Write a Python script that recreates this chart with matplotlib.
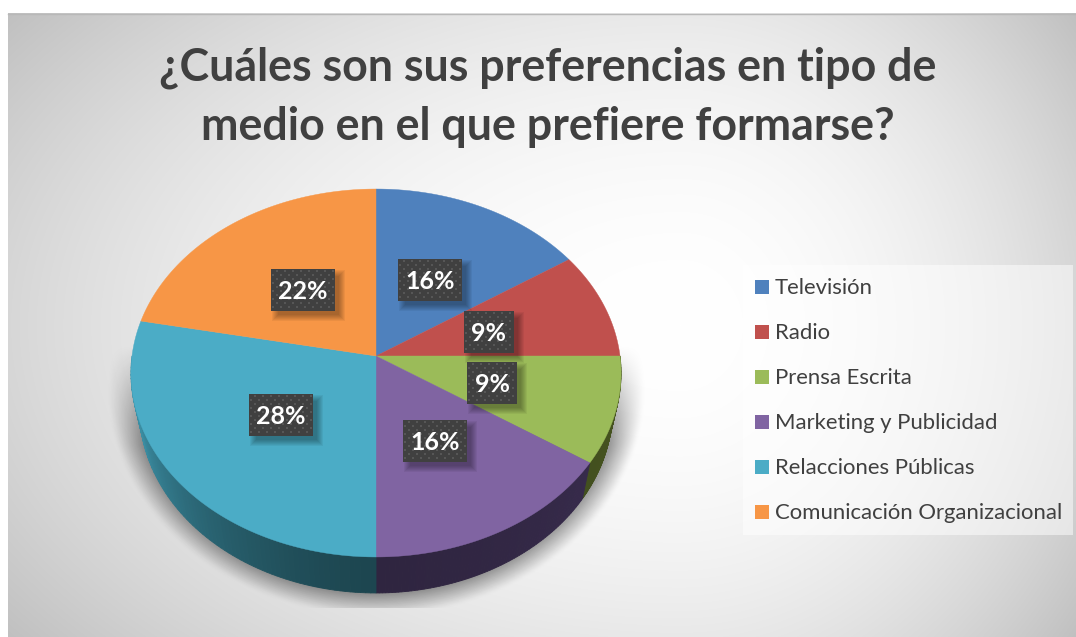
#!/usr/bin/env python3
"""Preferencias de medio: perspective pie with a drawn side wall"""

import matplotlib
matplotlib.use('Agg')
import matplotlib.pyplot as plt
from matplotlib.colors import to_rgb
from matplotlib.patches import Rectangle
import numpy as np

categories = ['Televisión', 'Radio', 'Prensa Escrita', 'Marketing y Publicidad',
              'Relacciones Públicas', 'Comunicación Organizacional']
counts = [5, 3, 3, 5, 9, 7]
colors = ['#4F81BD', '#C0504D', '#9BBB59', '#8064A2', '#4BACC6', '#F79646']
wall_dark = ['#2A4565', '#662B29', '#3E4A1F', '#2F2540', '#1D4650', '#84501F']
wall_light = ['#3A6090', '#8A3A38', '#45521F', '#3A2D50', '#3B8DA2', '#B06A2C']
title_lines = ['¿Cuáles son sus preferencias en tipo de', 'medio en el que prefiere formarse?']
# label box left, top in pixels
label_boxes = [(398, 259), (464, 311), (467, 362), (403, 420), (249, 394), (271, 269)]

W, H = 1076, 637
CX, CY = 376, 356
RX, RY = 244, 182.4
K = 0.0924
DEPTH = 36
TAPER = 0.965

plt.rcParams['font.family'] = ['Lato', 'DejaVu Sans']


def rim(frac):
    """Pie outline at clockwise fraction(s) from the top, with perspective"""
    t = 2 * np.pi * np.asarray(frac)
    u, v = np.sin(t), np.cos(t)
    w = 1 + K * v
    return CX + RX * u / w, CY - RY * v / w


def blur(a, n):
    kernel = np.exp(-np.linspace(-2.5, 2.5, 2 * n + 1) ** 2 / 2)
    kernel /= kernel.sum()
    a = np.apply_along_axis(np.convolve, 0, a, kernel, mode='same')
    return np.apply_along_axis(np.convolve, 1, a, kernel, mode='same')


fig = plt.figure(figsize=(W / 100, H / 100), dpi=100)
ax = fig.add_axes([0, 0, 1, 1])

# background gradient, white centre sitting right of the middle
yy, xx = np.mgrid[0:H, 0:W]
gx, gy = 680, 325
nx = np.where(xx < gx, (gx - xx) / (gx - 8), (xx - gx) / (W - gx))
ny = np.where(yy < gy, (gy - yy) / (gy - 13), (yy - gy) / (H - gy))
frac = (np.hypot(nx, 0.75 * ny) / 1.25) ** 2
shade = (255 - 63 * np.clip(frac, 0, 1)) / 255
bg = np.dstack([shade] * 3)
bg[:13, :] = 1
bg[:, :8] = 1
ax.imshow(bg, extent=(0, W, H, 0), zorder=0, aspect='auto')
ax.plot([8, W], [13.5, 13.5], color='#B8B8B8', lw=1, zorder=1)

# soft shadow below the pie
r = np.hypot((xx - CX) / 268.0, (yy - 386) / 228.0)
sh = np.clip((1.0 - r) / 0.13, 0, 1) * np.clip((yy - 345) / 100.0, 0, 1)
sh = blur(sh, 5) * 0.55
sh[608:, :] = 0
rgba = np.zeros((H, W, 4))
rgba[..., 3] = sh
ax.imshow(rgba, extent=(0, W, H, 0), zorder=1.5, aspect='auto')

edges = np.cumsum([0] + counts) / sum(counts)

# side wall, only the lower half shows
for i in range(len(counts)):
    lo, hi = max(edges[i], 0.25), min(edges[i + 1], 0.75)
    if hi <= lo:
        continue
    fr = np.linspace(lo, hi, 80)
    x, y = rim(fr)
    xb = CX + (x - CX) * TAPER
    c0, c1 = np.array(to_rgb(wall_dark[i])), np.array(to_rgb(wall_light[i]))
    for j in range(len(fr) - 1):
        # darker towards the bottom of the pie
        mix = min(abs(fr[j] - 0.5) / 0.25 * 1.25, 1) ** 1.5
        ax.fill([x[j], x[j + 1], xb[j + 1], xb[j]],
                [y[j], y[j + 1], y[j + 1] + DEPTH, y[j] + DEPTH],
                color=c0 + (c1 - c0) * mix, lw=0.6, zorder=2)

# top face
for i in range(len(counts)):
    fr = np.linspace(edges[i], edges[i + 1], 120)
    x, y = rim(fr)
    ax.fill(np.r_[CX, x], np.r_[CY, y], color=colors[i], lw=0.3, zorder=3)

# percent labels
for (bx, by), n in zip(label_boxes, counts):
    pct = round(100 * n / sum(counts))
    bw = 50 if pct < 10 else 64
    bh = 41.5
    for s in range(7):
        ax.add_patch(Rectangle((bx + 7 - s, by + 7 - s), bw + 2 * s - 3, bh + 2 * s - 3,
                               fc='black', ec='none', alpha=0.05, zorder=4))
    ax.add_patch(Rectangle((bx, by), bw, bh, fc='#404040', ec='none', zorder=5))
    dx, dy = [], []
    for row, yd in enumerate(np.arange(by + 2, by + bh, 4)):
        off = 2 if row % 2 else 6
        xd = np.arange(bx + off, bx + bw, 8)
        dx.extend(xd)
        dy.extend([yd] * len(xd))
    ax.scatter(dx, dy, s=3, marker='s', color='#565656', lw=0, zorder=6)
    ax.text(bx + bw / 2, by + bh / 2 + 2, f'{pct}%', color='white', fontsize=18,
            fontweight='bold', ha='center', va='center', zorder=7)

# title
for line, ty in zip(title_lines, [67.5, 127]):
    ax.text(548, ty, line, color='#404040', fontsize=32.2, fontweight='bold',
            ha='center', va='center', zorder=7)

# legend
ax.add_patch(Rectangle((743, 265), 330, 270, fc='white', ec='none', alpha=0.5, zorder=2))
for i, name in enumerate(categories):
    ly = 287 + i * 45
    ax.add_patch(Rectangle((755, ly - 7), 14, 14, fc=colors[i], ec='none', zorder=3))
    ax.text(775, ly + 1, name, color='#404040', fontsize=15.9, ha='left', va='center', zorder=3)

ax.set_xlim(0, W)
ax.set_ylim(H, 0)
ax.axis('off')
fig.savefig('out.png', dpi=100)
